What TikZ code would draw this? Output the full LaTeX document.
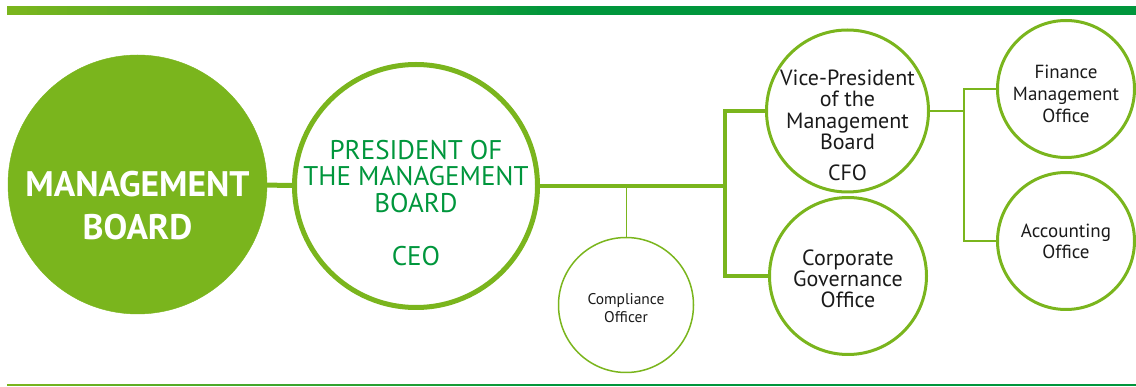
\documentclass[tikz,border=0pt]{standalone}
\usepackage{fontspec}
\setmainfont{PT Sans}
\definecolor{lgreen}{HTML}{7AB51D}
\definecolor{dgreen}{HTML}{00963C}
\definecolor{ink}{HTML}{1A1A1A}

\begin{document}
\begin{tikzpicture}[x=1pt,y=-1pt,
  unit/.style={circle,draw=lgreen,inner sep=0pt},
  txt/.style={align=center,text=ink,inner sep=0pt},
  link/.style={draw=lgreen}]
\useasboundingbox (0,0) rectangle (1136,387);
\foreach \i in {0,...,54} {
  \pgfmathsetmacro\pct{100-100*\i/54}
  \fill[lgreen!\pct!dgreen] (7+10*\i,6) rectangle (17.5+10*\i,15);
  \fill[lgreen!\pct!dgreen] (7+10*\i,384.5) rectangle (17.5+10*\i,386.5);
}
\fill[dgreen] (557,6) rectangle (1136,15);
\fill[dgreen] (557,384.5) rectangle (1136,386.5);

\node[unit,fill=lgreen,minimum size=259pt] (mb) at (137.5,184.5) {};
\node[unit,line width=5pt,minimum size=243pt] (ceo) at (416,186) {};
\node[unit,line width=1.5pt,minimum size=135pt] (comp) at (626,305) {};
\node[unit,line width=3pt,minimum size=162pt] (vp) at (847.5,111) {};
\node[unit,line width=3pt,minimum size=157pt] (cgo) at (848,276) {};
\node[unit,line width=3pt,minimum size=137pt] (fin) at (1066,89) {};
\node[unit,line width=3pt,minimum size=137pt] (acc) at (1066,241) {};

\coordinate (split) at (725,186);
\coordinate (fsplit) at (964,112);

\draw[link,line width=5pt] (mb) -- (ceo);
\draw[link,line width=4pt] (ceo.east) -- (split);
\draw[link,line width=1pt] (comp.north) -- (comp.north |- split);
\draw[link,line width=4pt] (vp.west) -- (vp.west -| split) -- (cgo.west -| split) -- (cgo.west);
\draw[link,line width=2.5pt] (vp.east) -- (vp.east -| fsplit);
\draw[link,line width=2.5pt] (fin.west) -- (fin.west -| fsplit) -- (acc.west -| fsplit) -- (acc.west);

\node[txt,text=white,font=\bfseries\fontsize{35.5}{43}\selectfont] (mb-txt) at (137.5,206) {MANAGEMENT\\BOARD};
\node[txt,text=dgreen,font=\fontsize{27}{26.5}\selectfont] (ceo-txt) at (416,203) {PRESIDENT OF\\THE MANAGEMENT\\BOARD\\[27pt]CEO};
\node[txt,font=\fontsize{22}{21.3}\selectfont] (vp-txt) at (847.5,125.5) {Vice-President\\of the\\Management\\Board\\[10pt]CFO};
\node[txt,font=\fontsize{22}{21.3}\selectfont] (cgo-txt) at (848,279) {Corporate\\Governance\\Office};
\node[txt,font=\fontsize{19}{22}\selectfont] (fin-txt) at (1066,94) {Finance\\Management\\Office};
\node[txt,font=\fontsize{19}{21}\selectfont] (acc-txt) at (1066,241.5) {Accounting\\Office};
\node[txt,font=\fontsize{15.5}{18}\selectfont] (comp-txt) at (626,308) {Compliance\\Officer};
\end{tikzpicture}
\end{document}
